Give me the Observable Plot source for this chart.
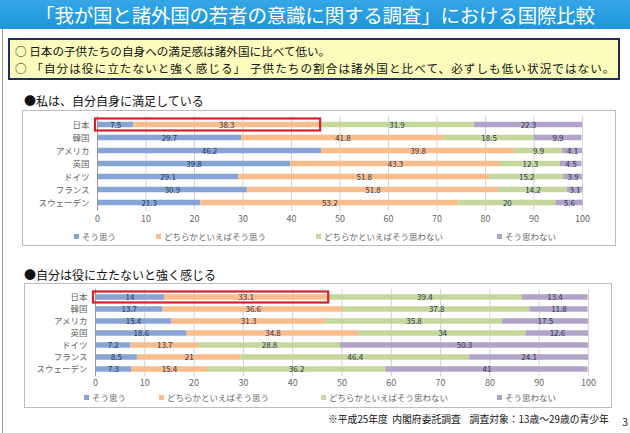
<!DOCTYPE html>
<html><head><meta charset="utf-8">
<script src="https://cdn.jsdelivr.net/npm/d3@7"></script>
<script src="https://cdn.jsdelivr.net/npm/@observablehq/plot@0.6"></script>
<style>
html,body{margin:0;padding:0;background:#fff;width:630px;height:433px;overflow:hidden;}
body{position:relative;font-family:"Noto Sans CJK JP","Noto Sans",sans-serif;}
.abs{position:absolute;}
#title{left:0;top:0;width:630px;height:29px;background:linear-gradient(#35a7e6,#1f94da);color:#fff;font-size:19.5px;line-height:29px;text-align:center;box-sizing:border-box;letter-spacing:-0.2px;}
#leftline{left:2px;top:29px;width:1px;height:404px;background:#999;}
#note{left:8px;top:38px;width:612px;height:42px;border:2px solid #1f2d5c;background:#fcfcbc;box-sizing:border-box;font-size:11.6px;line-height:17px;padding:3px 0 0 5px;color:#111;white-space:nowrap;}
#note .l2{letter-spacing:1.05px;}
.sec{font-size:12px;color:#111;white-space:nowrap;}
.box{border:1px solid #bdbdbd;box-sizing:border-box;}
.leg{font-size:8.5px;color:#666;white-space:nowrap;}
.sw{display:inline-block;width:5px;height:5px;margin-right:3px;vertical-align:1px;}
#cap{left:328px;top:412px;font-size:9.8px;color:#111;white-space:nowrap;}
#pg{left:622px;top:413px;font-size:11px;color:#333;}
</style></head>
<body>
<div id="title" class="abs">「我が国と諸外国の若者の意識に関する調査」における国際比較</div>
<div id="leftline" class="abs"></div>
<div id="note" class="abs">○ 日本の子供たちの自身への満足感は諸外国に比べて低い。<br><span class="l2">○ 「自分は役に立たないと強く感じる」 子供たちの割合は諸外国と比べて、必ずしも低い状況ではない。</span></div>
<div class="abs sec" style="left:24px;top:92px;">●私は、自分自身に満足している</div>
<div class="abs sec" style="left:24px;top:266px;">●自分は役に立たないと強く感じる</div>
<div id="cap" class="abs">※平成25年度&nbsp; 内閣府委託調査&nbsp;&nbsp;&nbsp; 調査対象：13歳～29歳の青少年</div>
<div id="pg" class="abs">3</div>
<script>
const countries = ["日本","韓国","アメリカ","英国","ドイツ","フランス","スウェーデン"];
const answers = ["そう思う","どちらかといえばそう思う","どちらかといえばそう思わない","そう思わない"];
const colors = ["#86a5d5","#f9bd8d","#c4d79c","#b3a3c8"];
const ticks = [0,10,20,30,40,50,60,70,80,90,100];

// 私は、自分自身に満足している
const satYes       = [7.5, 29.7, 46.2, 39.8, 29.1, 30.9, 21.3];
const satRatherYes = [38.3, 41.8, 39.8, 43.3, 51.8, 51.8, 53.2];
const satRatherNo  = [31.9, 18.5, 9.9, 12.3, 15.2, 14.2, 20];
const satNo        = [22.3, 9.9, 4.1, 4.5, 3.9, 3.1, 5.6];

// 自分は役に立たないと強く感じる
const useYes       = [14, 13.7, 15.4, 18.6, 7.2, 8.5, 7.3];
const useRatherYes = [33.1, 36.6, 31.3, 34.8, 13.7, 21, 15.4];
const useRatherNo  = [39.4, 37.8, 35.8, 34, 28.8, 46.4, 36.2];
const useNo        = [13.4, 11.8, 17.5, 12.6, 50.3, 24.1, 41];

function rows(series){
  const out=[];
  countries.forEach((c,i)=>series.forEach((s,k)=>out.push({country:c,answer:answers[k],value:s[i]})));
  return out;
}

function chart(series, cfg){
  const data = rows(series);
  const hl = [{country:countries[0], total: series[0][0]+series[1][0]}];
  const box = document.createElement("div");
  box.className="abs box";
  Object.assign(box.style,{left:cfg.left+"px",top:cfg.top+"px",width:cfg.width+"px",height:cfg.boxH+"px"});
  document.body.appendChild(box);
  const svg = Plot.plot({
    width: cfg.width, height: cfg.height,
    marginLeft: cfg.ml, marginRight: cfg.mr, marginTop: cfg.mt, marginBottom: cfg.mb,
    style:{fontFamily:'"Noto Sans CJK JP",sans-serif', background:"transparent", overflow:"visible"},
    x:{domain:[0,100], ticks:ticks, tickSize:0, tickPadding:cfg.tp, tickFormat:d=>d, label:null},
    y:{domain:countries, padding:0, tickSize:0, tickPadding:cfg.ytp, label:null},
    color:{domain:answers, range:colors},
    marks:[
      Plot.ruleX(ticks.slice(1), {stroke:"#d3d3d3", strokeWidth:1}),
      Plot.barX(data, Plot.stackX({x:"value", y:"country", fill:"answer", order:answers, insetTop:cfg.inset, insetBottom:cfg.inset})),
      Plot.text(data, Plot.stackX({x:"value", y:"country", z:"answer", order:answers, text:d=>String(d.value), fill:"#2a3550", fontSize:8})),
      Plot.ruleX([0], {stroke:"#9a9a9a"}),
      Plot.barX(hl, {x1:0, x2:"total", y:"country", fill:"none", stroke:"#d3202a", strokeWidth:2.2, insetLeft:-2, insetRight:-1, insetTop:0.5, insetBottom:0.5})
    ]
  });
  svg.style.position="absolute";
  svg.style.left=cfg.left+"px"; svg.style.top=cfg.top+"px";
  svg.querySelectorAll('[aria-label="x-axis tick label"] text, [aria-label="y-axis tick label"] text').forEach(t=>{t.setAttribute("fill","#666");});
  svg.querySelectorAll('[aria-label="x-axis tick label"]').forEach(g=>g.setAttribute("font-size","9"));
  svg.querySelectorAll('[aria-label="y-axis tick label"]').forEach(g=>g.setAttribute("font-size","8.5"));
  document.body.appendChild(svg);
  answers.forEach((a,k)=>{
    const d=document.createElement("div");
    d.className="abs leg";
    d.style.left=cfg.legX[k]+"px"; d.style.top=cfg.legY+"px";
    d.innerHTML='<span class="sw" style="background:'+colors[k]+'"></span>'+a;
    document.body.appendChild(d);
  });
}

chart([satYes,satRatherYes,satRatherNo,satNo],
  {left:22, top:110, width:594, boxH:136, height:126, ml:75, mr:34, mt:6.25, mb:25.25, tp:4, ytp:8, inset:3.75,
   legX:[74,156,316,497], legY:230});
chart([useYes,useRatherYes,useRatherNo,useNo],
  {left:24, top:283, width:588, boxH:125, height:112, ml:71, mr:24, mt:5.75, mb:18.75, tp:3, ytp:8, inset:3.25,
   legX:[84,159,321,497], legY:391});
</script>
</body></html>
